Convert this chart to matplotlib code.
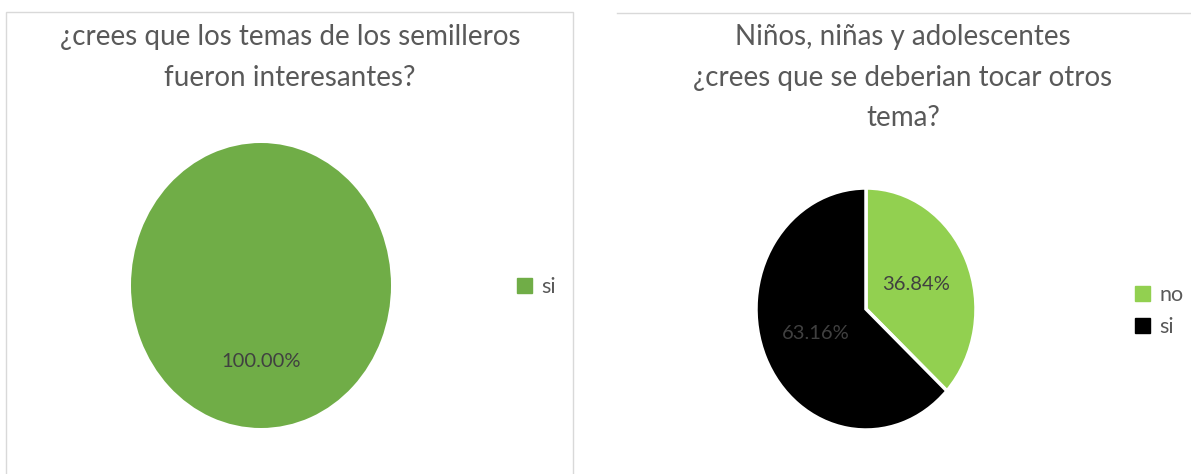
import matplotlib.pyplot as plt
from matplotlib.patches import Rectangle, Patch
from matplotlib.lines import Line2D

# data
left_title = "¿crees que los temas de los semilleros\nfueron interesantes?"
left_labels = ["si"]
left_values = [100.0]
left_colors = ["#70AD47"]

right_title = "Niños, niñas y adolescentes\n¿crees que se deberian tocar otros\ntema?"
right_labels = ["no", "si"]
right_values = [36.84, 63.16]
right_colors = ["#92D050", "#000000"]

W, H = 1191, 474
plt.rcParams['font.family'] = ['Lato', 'DejaVu Sans']
TXT = "#595959"

fig = plt.figure(figsize=(W / 100, H / 100), dpi=100)


def px_axes(x0, y0, x1, y1):
    # pixel box (top-left origin) -> figure axes
    return fig.add_axes([x0 / W, (H - y1) / H, (x1 - x0) / W, (y1 - y0) / H])


# panel frames
fig.patches.append(Rectangle((6 / W, -0.05), (573 - 6) / W, (H - 12) / H + 0.05,
                             transform=fig.transFigure, fill=False,
                             edgecolor="#D9D9D9", linewidth=1))
fig.lines.append(Line2D([617 / W, 1.0], [(H - 13) / H] * 2,
                        transform=fig.transFigure, color="#D9D9D9", linewidth=1))

# left pie
ax1 = px_axes(131, 143, 391, 428)
ax1.pie(left_values, colors=left_colors, startangle=90, counterclock=False,
        autopct="%.2f%%", pctdistance=0.53,
        wedgeprops=dict(edgecolor="white", linewidth=0),
        textprops=dict(color="#404040", fontsize=14.5))
ax1.set_aspect("auto")
ax1.set_xlim(-1, 1)
ax1.set_ylim(-1, 1)
fig.text(290 / W, 1 - 24 / H, left_title, ha="center", va="top",
         fontsize=20, color=TXT, linespacing=1.7)
fig.legend([Patch(color=c) for c in left_colors], left_labels,
           loc="center left", bbox_to_anchor=(498 / W, 1 - 287 / H),
           frameon=False, fontsize=15.5, labelcolor=TXT,
           handlelength=0.7, handleheight=0.7, handletextpad=0.4)

# right pie
ax2 = px_axes(756, 188, 976, 430)
ax2.pie(right_values, colors=right_colors, startangle=90, counterclock=False,
        autopct="%.2f%%", pctdistance=0.5,
        wedgeprops=dict(edgecolor="white", linewidth=2.5),
        textprops=dict(color="#404040", fontsize=14.5))
ax2.set_aspect("auto")
ax2.set_xlim(-1, 1)
ax2.set_ylim(-1, 1)
fig.text(903 / W, 1 - 24 / H, right_title, ha="center", va="top",
         fontsize=20, color=TXT, linespacing=1.7)
fig.legend([Patch(color=c) for c in right_colors], right_labels,
           loc="center left", bbox_to_anchor=(1116 / W, 1 - 311 / H),
           frameon=False, fontsize=15.5, labelcolor=TXT,
           handlelength=0.7, handleheight=0.7, handletextpad=0.4,
           labelspacing=0.55)

fig.savefig("out.png", dpi=100)
